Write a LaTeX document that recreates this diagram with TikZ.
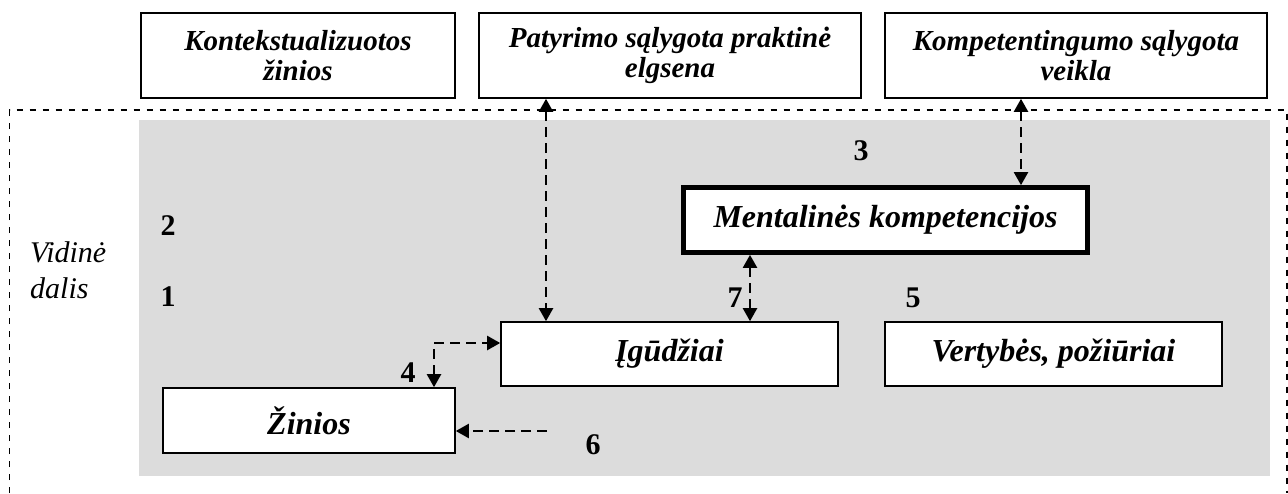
\documentclass[tikz,border=0pt]{standalone}
\usepackage{fontspec}
\setmainfont{Liberation Serif}
\usetikzlibrary{arrows.meta,positioning}
\definecolor{innergray}{RGB}{220,220,220}

\tikzset{
  >={Triangle[length=13pt,width=14pt]},
  box/.style={draw, line width=1.6pt, fill=white, inner sep=0pt, align=center,
    font=\fontsize{32}{34}\selectfont\bfseries\itshape},
  topbox/.style={box, minimum height=85pt, font=\fontsize{29}{30}\selectfont\bfseries\itshape},
  dasharrow/.style={line width=2.2pt, dash pattern=on 10pt off 6pt},
  num/.style={font=\fontsize{30}{30}\selectfont\bfseries}
}

\begin{document}
\begin{tikzpicture}[x=1pt, y=-1pt]
  \useasboundingbox (0,0) rectangle (1288,493);
  \fill[innergray] (139,120) rectangle (1270,476);
  \draw[line width=1.4pt, dash pattern=on 6pt off 7pt] (9.5,493) -- (9.5,110) -- (1287,110) -- (1287,493);
  % virsutines dezutes
  \node[topbox, minimum width=314pt] (kont) at (298,55.5) {Kontekstualizuotos\\žinios};
  \node[topbox, minimum width=382pt] (patyr) at (670,55.5) {Patyrimo sąlygota praktinė\\elgsena};
  \node[topbox, minimum width=382pt] (kompet) at (1076,55.5) {Kompetentingumo sąlygota\\veikla};
  % vidine dalis
  \node[box, line width=4.7pt, minimum width=404pt, minimum height=65pt] (ment) at (885.5,220) {Mentalinės kompetencijos};
  \node[box, minimum width=337pt, minimum height=64pt] (igud) at (669.5,354) {Įgūdžiai};
  \node[box, minimum width=337pt, minimum height=64pt] (vert) at (1053.5,354) {Vertybės, požiūriai};
  \node[box, minimum width=292pt, minimum height=65pt] (zin) at (309,420.5) {Žinios};
  \node[anchor=north west, align=left, inner sep=0pt, font=\fontsize{30}{36}\selectfont\itshape] (vid) at (30,241) {Vidinė\\dalis};
  \foreach \n/\x/\y in {1/168/297, 2/168/226, 3/861/151, 4/408/373, 5/913/298, 6/593/445, 7/735/298}{
    \node[num] (n\n) at (\x,\y) {\n};
  }
  % rodykles
  \coordinate (pa) at (546,0);
  \coordinate (ka) at (1021,0);
  \coordinate (sa) at (750,0);
  \coordinate (za) at (434,343);
  \coordinate (ta) at (547,431);
  \draw[dasharrow, <->] (patyr.south -| pa) -- (igud.north -| pa);
  \draw[dasharrow, <->] (kompet.south -| ka) -- (ment.north -| ka);
  \draw[dasharrow, <->] (ment.south -| sa) -- (igud.north -| sa);
  \draw[dasharrow, <->] (zin.north -| za) -- (za) -- (igud.west |- za);
  \draw[dasharrow, ->] (ta) -- (zin.east |- ta);
\end{tikzpicture}
\end{document}
